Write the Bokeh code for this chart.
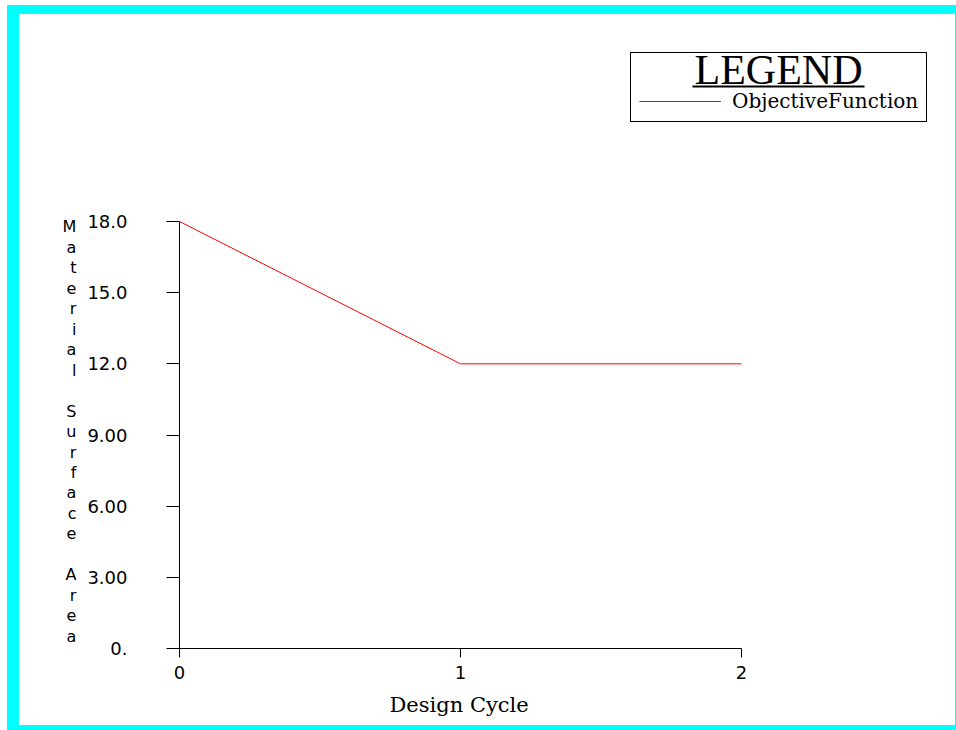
from bokeh.plotting import figure
from bokeh.models import Range1d, FixedTicker, Legend, LegendItem, Label, BoxAnnotation, Title
from bokeh.layouts import column
from bokeh.embed import file_html
from bokeh.resources import INLINE

# ---- data ----
cycles = [0, 1, 2]
objective = [18.0, 12.0, 12.0]
x_ticks = [0, 1, 2]
y_ticks = [0, 3, 6, 9, 12, 15, 18]
y_tick_labels = ["0.", "3.00", "6.00", "9.00", "12.0", "15.0", "18.0"]
series_name = "ObjectiveFunction"
legend_title = "LEGEND"
x_label = "Design Cycle"
y_label = "Material Surface Area"

# ---- layout (pixels) ----
P_LEFT, P_TOP = 19, 14          # figure origin on page (inside cyan frame)
W, H = 936, 711
AX_LEFT, AX_RIGHT = 179, 741    # pixel of x=0 and x=2
AX_TOP, AX_BOTTOM = 221, 648    # pixel of y=18 and y=0
FR_TOP, FR_RIGHT = 30, 945      # extended frame so the legend is not clipped

x_end = x_ticks[-1] * (FR_RIGHT - AX_LEFT) / (AX_RIGHT - AX_LEFT)
y_end = y_ticks[-1] * (AX_BOTTOM - FR_TOP) / (AX_BOTTOM - AX_TOP)


def px_to_x(px):
    return (px - AX_LEFT) / (AX_RIGHT - AX_LEFT) * x_ticks[-1]


def px_to_y(py):
    return (AX_BOTTOM - py) / (AX_BOTTOM - AX_TOP) * y_ticks[-1]


p = figure(width=W, height=H, output_backend="svg", toolbar_location=None,
           x_range=Range1d(0, x_end), y_range=Range1d(0, y_end),
           min_border_left=AX_LEFT - P_LEFT, min_border_right=P_LEFT + W - FR_RIGHT,
           min_border_top=FR_TOP - P_TOP, min_border_bottom=P_TOP + H - AX_BOTTOM)
p.background_fill_color = "white"
p.border_fill_color = "white"
p.outline_line_color = None
p.xgrid.visible = False
p.ygrid.visible = False
p.styles = {"background-color": "white"}

r = p.line(cycles, objective, line_color="#ff0000", line_width=1)

# x axis
xa = p.xaxis[0]
xa.bounds = (x_ticks[0], x_ticks[-1])
xa.ticker = FixedTicker(ticks=x_ticks)
xa.minor_tick_line_color = None
xa.major_tick_in = 0
xa.major_tick_out = 9
xa.axis_line_color = "black"
xa.major_tick_line_color = "black"
xa.major_label_text_font = "DejaVu Sans"
xa.major_label_text_font_size = "18px"
xa.major_label_text_color = "black"
xa.major_label_standoff = 8

xt = Title(text=x_label, align="left", offset=210, standoff=18,
           text_font="DejaVu Serif", text_font_size="21px", text_font_style="normal",
           text_color="black")
p.add_layout(xt, "below")

# y axis
ya = p.yaxis[0]
ya.bounds = (y_ticks[0], y_ticks[-1])
ya.ticker = FixedTicker(ticks=y_ticks)
ya.major_label_overrides = {t: s for t, s in zip(y_ticks, y_tick_labels)}
ya.minor_tick_line_color = None
ya.major_tick_in = 0
ya.major_tick_out = 13
ya.axis_line_color = "black"
ya.major_tick_line_color = "black"
ya.major_label_text_font = "DejaVu Sans"
ya.major_label_text_font_size = "18px"
ya.major_label_text_color = "black"
ya.major_label_standoff = 39
ya.axis_label = "\n" * 9 + "\n".join(y_label)
ya.axis_label_orientation = "horizontal"
ya.axis_label_text_font = "DejaVu Sans"
ya.axis_label_text_font_size = "16px"
ya.axis_label_text_font_style = "normal"
ya.axis_label_text_color = "black"
ya.axis_label_text_line_height = 1.077
ya.axis_label_standoff = 8

# legend (inside the extended frame, above the data area)
legend = Legend(items=[LegendItem(label=series_name, renderers=[r])],
                location=(630 - AX_LEFT, AX_BOTTOM - 122), orientation="vertical")
legend.title = "\u00a0"
legend.title_text_font = "Liberation Serif"
legend.title_text_font_size = "25px"
legend.title_standoff = 0
legend.border_line_color = "black"
legend.border_line_width = 1
legend.border_line_alpha = 1
legend.background_fill_alpha = 0
legend.padding = 8
legend.margin = 0
legend.spacing = 0
legend.glyph_width = 82
legend.glyph_height = 20
legend.label_standoff = 11
legend.label_text_font = "DejaVu Serif"
legend.label_text_font_size = "20px"
legend.label_text_color = "black"
legend.label_height = 20
p.add_layout(legend, "center")

title_lbl = Label(x=px_to_x(778), y=px_to_y(69), text=legend_title,
                  text_font="Liberation Serif", text_font_size="42px",
                  text_align="center", text_baseline="alphabetic", text_color="black",
                  level="overlay")
p.add_layout(title_lbl)
underline = BoxAnnotation(left=px_to_x(692), right=px_to_x(864),
                          bottom=px_to_y(87), top=px_to_y(85),
                          fill_color="black", fill_alpha=1, line_color=None,
                          level="overlay")
p.add_layout(underline)

layout = column(p, styles={"background-color": "#00ffff", "margin": "5px 0px 0px 7px",
                           "padding": "9px 1px 5px 12px"})

open("out.html", "w").write(file_html(layout, INLINE))
